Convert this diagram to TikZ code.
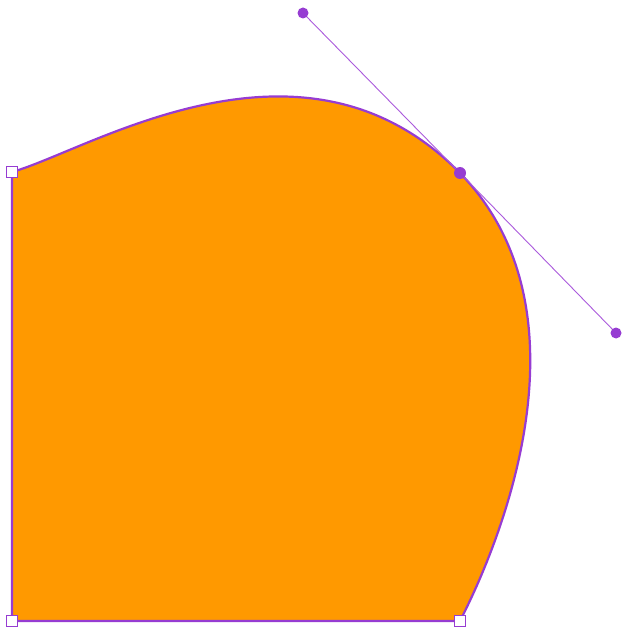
\documentclass[tikz,border=0pt]{standalone}
\definecolor{fillorange}{RGB}{255,153,0}
\definecolor{pathpurple}{RGB}{150,60,210}
\definecolor{handlepurple}{RGB}{170,90,220}
\begin{document}
\begin{tikzpicture}[x=1pt,y=-1pt,
  outline/.style={draw=pathpurple,line width=2.2pt,fill=fillorange,line join=round},
  handleline/.style={draw=handlepurple,line width=0.9pt},
  cornerpt/.style={draw=pathpurple,fill=white,line width=1.4pt,minimum size=11pt,inner sep=0pt,rectangle},
  smoothpt/.style={fill=pathpurple,circle,minimum size=12pt,inner sep=0pt},
  handlept/.style={fill=pathpurple,circle,minimum size=11pt,inner sep=0pt}]
\useasboundingbox (0,0) rectangle (622,631);
\coordinate (tl) at (12,172);
\coordinate (bl) at (12,621);
\coordinate (br) at (460,621);
\coordinate (sm) at (460,173);
\coordinate (h1) at (303,13);
\coordinate (h2) at (616,333);
\draw[outline] (tl) .. controls (90,150) and (h1) .. (sm)
  .. controls (h2) and (464,612) .. (br) -- (bl) -- cycle;
\draw[handleline] (h1) -- (sm) -- (h2);
\node[cornerpt] (ntl) at (tl) {};
\node[cornerpt] (nbl) at (bl) {};
\node[cornerpt] (nbr) at (br) {};
\node[smoothpt] (nsm) at (sm) {};
\node[handlept] (nh1) at (h1) {};
\node[handlept] (nh2) at (h2) {};
\end{tikzpicture}
\end{document}
